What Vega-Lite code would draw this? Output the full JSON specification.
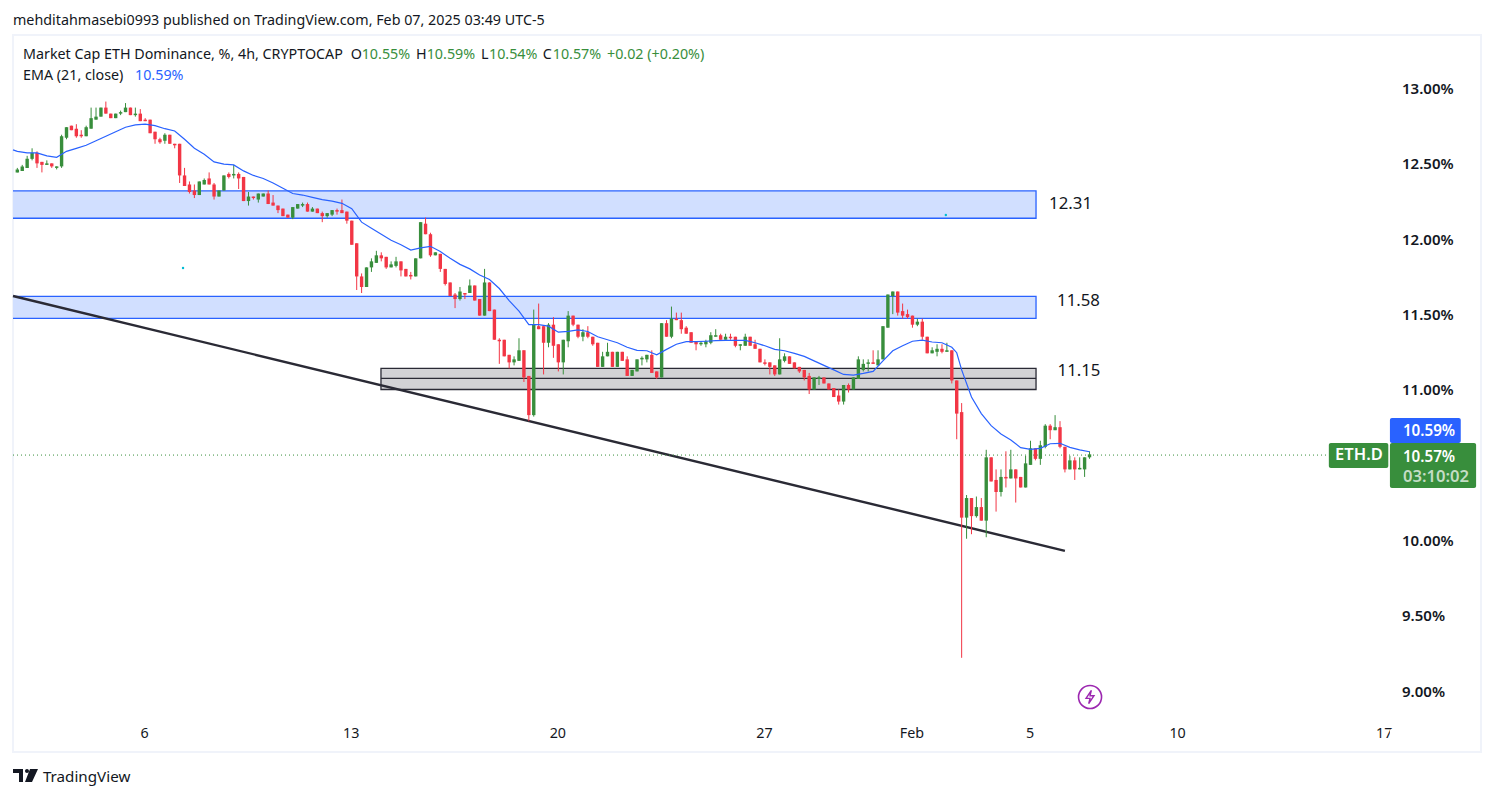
{"$schema":"https://vega.github.io/schema/vega-lite/v6.json","width":1468,"height":717,"autosize":{"type":"none"},"padding":{"left":13,"top":35,"right":13,"bottom":46},"background":"white","view":{"stroke":"#f0f3fa","strokeWidth":2},"config":{"font":"Noto Sans"},"title":{"text":"mehditahmasebi0993 published on TradingView.com, Feb 07, 2025 03:49 UTC-5","anchor":"start","frame":"group","fontSize":14.3,"fontWeight":"normal","color":"#131722","offset":7,"font":"Noto Sans"},
"datasets":{
"candles":[
{"t":"2025-01-01T16:00Z","o":12.44,"h":12.47,"l":12.44,"c":12.46},{"t":"2025-01-01T20:00Z","o":12.45,"h":12.49,"l":12.45,"c":12.48},
{"t":"2025-01-02T00:00Z","o":12.47,"h":12.55,"l":12.47,"c":12.53},{"t":"2025-01-02T04:00Z","o":12.53,"h":12.60,"l":12.52,"c":12.57},{"t":"2025-01-02T08:00Z","o":12.57,"h":12.58,"l":12.47,"c":12.50},{"t":"2025-01-02T12:00Z","o":12.51,"h":12.51,"l":12.44,"c":12.49},{"t":"2025-01-02T16:00Z","o":12.49,"h":12.52,"l":12.49,"c":12.50},{"t":"2025-01-02T20:00Z","o":12.50,"h":12.50,"l":12.47,"c":12.48},
{"t":"2025-01-03T00:00Z","o":12.47,"h":12.48,"l":12.46,"c":12.48},{"t":"2025-01-03T04:00Z","o":12.48,"h":12.69,"l":12.47,"c":12.68},{"t":"2025-01-03T08:00Z","o":12.67,"h":12.74,"l":12.66,"c":12.74},{"t":"2025-01-03T12:00Z","o":12.75,"h":12.75,"l":12.72,"c":12.72},{"t":"2025-01-03T16:00Z","o":12.73,"h":12.76,"l":12.67,"c":12.68},{"t":"2025-01-03T20:00Z","o":12.69,"h":12.72,"l":12.67,"c":12.68},
{"t":"2025-01-04T00:00Z","o":12.68,"h":12.75,"l":12.68,"c":12.74},{"t":"2025-01-04T04:00Z","o":12.73,"h":12.87,"l":12.73,"c":12.80},{"t":"2025-01-04T08:00Z","o":12.79,"h":12.87,"l":12.79,"c":12.81},{"t":"2025-01-04T12:00Z","o":12.81,"h":12.87,"l":12.81,"c":12.87},{"t":"2025-01-04T16:00Z","o":12.87,"h":12.91,"l":12.83,"c":12.83},{"t":"2025-01-04T20:00Z","o":12.83,"h":12.83,"l":12.80,"c":12.80},
{"t":"2025-01-05T00:00Z","o":12.80,"h":12.83,"l":12.80,"c":12.83},{"t":"2025-01-05T04:00Z","o":12.83,"h":12.85,"l":12.82,"c":12.84},{"t":"2025-01-05T08:00Z","o":12.84,"h":12.90,"l":12.84,"c":12.87},{"t":"2025-01-05T12:00Z","o":12.87,"h":12.87,"l":12.82,"c":12.82},{"t":"2025-01-05T16:00Z","o":12.82,"h":12.87,"l":12.81,"c":12.83},{"t":"2025-01-05T20:00Z","o":12.83,"h":12.86,"l":12.78,"c":12.78},
{"t":"2025-01-06T00:00Z","o":12.79,"h":12.80,"l":12.78,"c":12.78},{"t":"2025-01-06T04:00Z","o":12.79,"h":12.79,"l":12.70,"c":12.70},{"t":"2025-01-06T08:00Z","o":12.71,"h":12.71,"l":12.63,"c":12.66},{"t":"2025-01-06T12:00Z","o":12.66,"h":12.67,"l":12.63,"c":12.64},{"t":"2025-01-06T16:00Z","o":12.65,"h":12.70,"l":12.63,"c":12.69},{"t":"2025-01-06T20:00Z","o":12.69,"h":12.69,"l":12.63,"c":12.63},
{"t":"2025-01-07T00:00Z","o":12.63,"h":12.63,"l":12.60,"c":12.62},{"t":"2025-01-07T04:00Z","o":12.63,"h":12.63,"l":12.37,"c":12.42},{"t":"2025-01-07T08:00Z","o":12.42,"h":12.47,"l":12.35,"c":12.35},{"t":"2025-01-07T12:00Z","o":12.36,"h":12.38,"l":12.30,"c":12.31},{"t":"2025-01-07T16:00Z","o":12.32,"h":12.36,"l":12.27,"c":12.29},{"t":"2025-01-07T20:00Z","o":12.29,"h":12.38,"l":12.29,"c":12.38},
{"t":"2025-01-08T00:00Z","o":12.36,"h":12.40,"l":12.36,"c":12.39},{"t":"2025-01-08T04:00Z","o":12.40,"h":12.44,"l":12.36,"c":12.36},{"t":"2025-01-08T08:00Z","o":12.36,"h":12.37,"l":12.26,"c":12.28},{"t":"2025-01-08T12:00Z","o":12.28,"h":12.32,"l":12.28,"c":12.32},{"t":"2025-01-08T16:00Z","o":12.32,"h":12.42,"l":12.32,"c":12.42},{"t":"2025-01-08T20:00Z","o":12.43,"h":12.44,"l":12.40,"c":12.41},
{"t":"2025-01-09T00:00Z","o":12.42,"h":12.49,"l":12.40,"c":12.43},{"t":"2025-01-09T04:00Z","o":12.43,"h":12.44,"l":12.33,"c":12.40},{"t":"2025-01-09T08:00Z","o":12.41,"h":12.41,"l":12.25,"c":12.25},{"t":"2025-01-09T12:00Z","o":12.25,"h":12.31,"l":12.22,"c":12.28},{"t":"2025-01-09T16:00Z","o":12.28,"h":12.28,"l":12.26,"c":12.27},{"t":"2025-01-09T20:00Z","o":12.26,"h":12.30,"l":12.24,"c":12.30},
{"t":"2025-01-10T00:00Z","o":12.28,"h":12.30,"l":12.28,"c":12.30},{"t":"2025-01-10T04:00Z","o":12.30,"h":12.32,"l":12.23,"c":12.23},{"t":"2025-01-10T08:00Z","o":12.24,"h":12.29,"l":12.22,"c":12.22},{"t":"2025-01-10T12:00Z","o":12.22,"h":12.22,"l":12.17,"c":12.19},{"t":"2025-01-10T16:00Z","o":12.20,"h":12.20,"l":12.15,"c":12.15},{"t":"2025-01-10T20:00Z","o":12.16,"h":12.16,"l":12.14,"c":12.14},
{"t":"2025-01-11T00:00Z","o":12.14,"h":12.21,"l":12.13,"c":12.21},{"t":"2025-01-11T04:00Z","o":12.20,"h":12.23,"l":12.20,"c":12.23},{"t":"2025-01-11T08:00Z","o":12.22,"h":12.24,"l":12.21,"c":12.23},{"t":"2025-01-11T12:00Z","o":12.23,"h":12.24,"l":12.18,"c":12.18},{"t":"2025-01-11T16:00Z","o":12.18,"h":12.21,"l":12.18,"c":12.20},{"t":"2025-01-11T20:00Z","o":12.20,"h":12.20,"l":12.17,"c":12.17},
{"t":"2025-01-12T00:00Z","o":12.17,"h":12.18,"l":12.11,"c":12.15},{"t":"2025-01-12T04:00Z","o":12.15,"h":12.17,"l":12.14,"c":12.17},{"t":"2025-01-12T08:00Z","o":12.16,"h":12.19,"l":12.15,"c":12.19},{"t":"2025-01-12T12:00Z","o":12.19,"h":12.20,"l":12.16,"c":12.18},{"t":"2025-01-12T16:00Z","o":12.19,"h":12.26,"l":12.17,"c":12.17},{"t":"2025-01-12T20:00Z","o":12.18,"h":12.18,"l":12.10,"c":12.12},
{"t":"2025-01-13T00:00Z","o":12.12,"h":12.12,"l":11.96,"c":11.96},{"t":"2025-01-13T04:00Z","o":11.97,"h":11.97,"l":11.66,"c":11.75},{"t":"2025-01-13T08:00Z","o":11.75,"h":11.77,"l":11.64,"c":11.68},{"t":"2025-01-13T12:00Z","o":11.68,"h":11.81,"l":11.68,"c":11.81},{"t":"2025-01-13T16:00Z","o":11.81,"h":11.87,"l":11.78,"c":11.85},{"t":"2025-01-13T20:00Z","o":11.84,"h":11.92,"l":11.84,"c":11.89},
{"t":"2025-01-14T00:00Z","o":11.89,"h":11.91,"l":11.85,"c":11.87},{"t":"2025-01-14T04:00Z","o":11.88,"h":11.88,"l":11.80,"c":11.81},{"t":"2025-01-14T08:00Z","o":11.81,"h":11.85,"l":11.81,"c":11.83},{"t":"2025-01-14T12:00Z","o":11.82,"h":11.88,"l":11.81,"c":11.85},{"t":"2025-01-14T16:00Z","o":11.85,"h":11.85,"l":11.75,"c":11.79},{"t":"2025-01-14T20:00Z","o":11.80,"h":11.80,"l":11.75,"c":11.75},
{"t":"2025-01-15T00:00Z","o":11.76,"h":11.78,"l":11.73,"c":11.75},{"t":"2025-01-15T04:00Z","o":11.75,"h":11.87,"l":11.75,"c":11.87},{"t":"2025-01-15T08:00Z","o":11.87,"h":12.11,"l":11.87,"c":12.11},{"t":"2025-01-15T12:00Z","o":12.10,"h":12.14,"l":12.03,"c":12.03},{"t":"2025-01-15T16:00Z","o":12.03,"h":12.04,"l":11.88,"c":11.89},{"t":"2025-01-15T20:00Z","o":11.89,"h":11.91,"l":11.89,"c":11.91},
{"t":"2025-01-16T00:00Z","o":11.90,"h":11.90,"l":11.78,"c":11.80},{"t":"2025-01-16T04:00Z","o":11.80,"h":11.80,"l":11.69,"c":11.70},{"t":"2025-01-16T08:00Z","o":11.71,"h":11.71,"l":11.62,"c":11.62},{"t":"2025-01-16T12:00Z","o":11.63,"h":11.64,"l":11.54,"c":11.60},{"t":"2025-01-16T16:00Z","o":11.60,"h":11.68,"l":11.59,"c":11.65},{"t":"2025-01-16T20:00Z","o":11.64,"h":11.64,"l":11.60,"c":11.63},
{"t":"2025-01-17T00:00Z","o":11.64,"h":11.73,"l":11.64,"c":11.69},{"t":"2025-01-17T04:00Z","o":11.69,"h":11.69,"l":11.59,"c":11.59},{"t":"2025-01-17T08:00Z","o":11.60,"h":11.60,"l":11.49,"c":11.49},{"t":"2025-01-17T12:00Z","o":11.49,"h":11.80,"l":11.49,"c":11.71},{"t":"2025-01-17T16:00Z","o":11.71,"h":11.71,"l":11.52,"c":11.52},{"t":"2025-01-17T20:00Z","o":11.53,"h":11.53,"l":11.33,"c":11.33},
{"t":"2025-01-18T00:00Z","o":11.33,"h":11.34,"l":11.17,"c":11.32},{"t":"2025-01-18T04:00Z","o":11.33,"h":11.33,"l":11.22,"c":11.22},{"t":"2025-01-18T08:00Z","o":11.23,"h":11.23,"l":11.14,"c":11.18},{"t":"2025-01-18T12:00Z","o":11.18,"h":11.22,"l":11.16,"c":11.20},{"t":"2025-01-18T16:00Z","o":11.19,"h":11.34,"l":11.19,"c":11.26},{"t":"2025-01-18T20:00Z","o":11.26,"h":11.26,"l":11.05,"c":11.08},
{"t":"2025-01-19T00:00Z","o":11.09,"h":11.09,"l":10.79,"c":10.83},{"t":"2025-01-19T04:00Z","o":10.83,"h":11.53,"l":10.82,"c":11.43},{"t":"2025-01-19T08:00Z","o":11.42,"h":11.57,"l":11.40,"c":11.40},{"t":"2025-01-19T12:00Z","o":11.42,"h":11.42,"l":11.10,"c":11.31},{"t":"2025-01-19T16:00Z","o":11.31,"h":11.44,"l":11.28,"c":11.43},{"t":"2025-01-19T20:00Z","o":11.43,"h":11.48,"l":11.21,"c":11.29},
{"t":"2025-01-20T00:00Z","o":11.30,"h":11.30,"l":11.12,"c":11.18},{"t":"2025-01-20T04:00Z","o":11.18,"h":11.33,"l":11.10,"c":11.33},{"t":"2025-01-20T08:00Z","o":11.32,"h":11.52,"l":11.28,"c":11.49},{"t":"2025-01-20T12:00Z","o":11.49,"h":11.49,"l":11.42,"c":11.43},{"t":"2025-01-20T16:00Z","o":11.43,"h":11.43,"l":11.34,"c":11.35},{"t":"2025-01-20T20:00Z","o":11.35,"h":11.40,"l":11.32,"c":11.38},
{"t":"2025-01-21T00:00Z","o":11.38,"h":11.42,"l":11.34,"c":11.35},{"t":"2025-01-21T04:00Z","o":11.35,"h":11.35,"l":11.29,"c":11.30},{"t":"2025-01-21T08:00Z","o":11.31,"h":11.31,"l":11.15,"c":11.15},{"t":"2025-01-21T12:00Z","o":11.15,"h":11.25,"l":11.15,"c":11.22},{"t":"2025-01-21T16:00Z","o":11.22,"h":11.31,"l":11.22,"c":11.25},{"t":"2025-01-21T20:00Z","o":11.25,"h":11.25,"l":11.15,"c":11.15},
{"t":"2025-01-22T00:00Z","o":11.15,"h":11.25,"l":11.15,"c":11.25},{"t":"2025-01-22T04:00Z","o":11.25,"h":11.25,"l":11.19,"c":11.19},{"t":"2025-01-22T08:00Z","o":11.20,"h":11.22,"l":11.09,"c":11.09},{"t":"2025-01-22T12:00Z","o":11.09,"h":11.13,"l":11.09,"c":11.13},{"t":"2025-01-22T16:00Z","o":11.12,"h":11.20,"l":11.12,"c":11.20},{"t":"2025-01-22T20:00Z","o":11.20,"h":11.22,"l":11.16,"c":11.21},
{"t":"2025-01-23T00:00Z","o":11.20,"h":11.23,"l":11.18,"c":11.23},{"t":"2025-01-23T04:00Z","o":11.23,"h":11.26,"l":11.11,"c":11.11},{"t":"2025-01-23T08:00Z","o":11.12,"h":11.12,"l":11.07,"c":11.08},{"t":"2025-01-23T12:00Z","o":11.08,"h":11.44,"l":11.08,"c":11.44},{"t":"2025-01-23T16:00Z","o":11.44,"h":11.46,"l":11.35,"c":11.35},{"t":"2025-01-23T20:00Z","o":11.35,"h":11.55,"l":11.34,"c":11.47},
{"t":"2025-01-24T00:00Z","o":11.47,"h":11.51,"l":11.46,"c":11.46},{"t":"2025-01-24T04:00Z","o":11.46,"h":11.51,"l":11.37,"c":11.40},{"t":"2025-01-24T08:00Z","o":11.41,"h":11.42,"l":11.37,"c":11.37},{"t":"2025-01-24T12:00Z","o":11.38,"h":11.38,"l":11.31,"c":11.31},{"t":"2025-01-24T16:00Z","o":11.32,"h":11.32,"l":11.26,"c":11.30},{"t":"2025-01-24T20:00Z","o":11.30,"h":11.32,"l":11.29,"c":11.31},
{"t":"2025-01-25T00:00Z","o":11.30,"h":11.33,"l":11.28,"c":11.32},{"t":"2025-01-25T04:00Z","o":11.31,"h":11.38,"l":11.30,"c":11.36},{"t":"2025-01-25T08:00Z","o":11.35,"h":11.40,"l":11.35,"c":11.36},{"t":"2025-01-25T12:00Z","o":11.36,"h":11.37,"l":11.33,"c":11.33},{"t":"2025-01-25T16:00Z","o":11.33,"h":11.37,"l":11.33,"c":11.35},{"t":"2025-01-25T20:00Z","o":11.35,"h":11.37,"l":11.33,"c":11.34},
{"t":"2025-01-26T00:00Z","o":11.35,"h":11.35,"l":11.28,"c":11.29},{"t":"2025-01-26T04:00Z","o":11.29,"h":11.30,"l":11.26,"c":11.30},{"t":"2025-01-26T08:00Z","o":11.29,"h":11.37,"l":11.29,"c":11.35},{"t":"2025-01-26T12:00Z","o":11.35,"h":11.35,"l":11.29,"c":11.29},{"t":"2025-01-26T16:00Z","o":11.30,"h":11.33,"l":11.27,"c":11.27},{"t":"2025-01-26T20:00Z","o":11.27,"h":11.27,"l":11.18,"c":11.18},
{"t":"2025-01-27T00:00Z","o":11.18,"h":11.20,"l":11.16,"c":11.17},{"t":"2025-01-27T04:00Z","o":11.18,"h":11.18,"l":11.10,"c":11.15},{"t":"2025-01-27T08:00Z","o":11.16,"h":11.16,"l":11.09,"c":11.10},{"t":"2025-01-27T12:00Z","o":11.10,"h":11.34,"l":11.10,"c":11.20},{"t":"2025-01-27T16:00Z","o":11.19,"h":11.24,"l":11.18,"c":11.22},{"t":"2025-01-27T20:00Z","o":11.22,"h":11.22,"l":11.17,"c":11.17},
{"t":"2025-01-28T00:00Z","o":11.18,"h":11.18,"l":11.14,"c":11.14},{"t":"2025-01-28T04:00Z","o":11.15,"h":11.15,"l":11.11,"c":11.12},{"t":"2025-01-28T08:00Z","o":11.13,"h":11.13,"l":11.06,"c":11.08},{"t":"2025-01-28T12:00Z","o":11.09,"h":11.11,"l":10.97,"c":11.00},{"t":"2025-01-28T16:00Z","o":11.00,"h":11.08,"l":11.00,"c":11.08},{"t":"2025-01-28T20:00Z","o":11.07,"h":11.09,"l":11.03,"c":11.08},
{"t":"2025-01-29T00:00Z","o":11.08,"h":11.08,"l":11.04,"c":11.04},{"t":"2025-01-29T04:00Z","o":11.04,"h":11.04,"l":11.00,"c":11.00},{"t":"2025-01-29T08:00Z","o":11.01,"h":11.01,"l":10.95,"c":10.95},{"t":"2025-01-29T12:00Z","o":10.96,"h":11.00,"l":10.90,"c":10.92},{"t":"2025-01-29T16:00Z","o":10.92,"h":11.03,"l":10.90,"c":11.03},{"t":"2025-01-29T20:00Z","o":11.03,"h":11.04,"l":10.98,"c":11.00},
{"t":"2025-01-30T00:00Z","o":11.00,"h":11.08,"l":11.00,"c":11.08},{"t":"2025-01-30T04:00Z","o":11.07,"h":11.22,"l":11.07,"c":11.20},{"t":"2025-01-30T08:00Z","o":11.13,"h":11.20,"l":11.12,"c":11.17},{"t":"2025-01-30T12:00Z","o":11.17,"h":11.20,"l":11.12,"c":11.18},{"t":"2025-01-30T16:00Z","o":11.18,"h":11.26,"l":11.17,"c":11.17},{"t":"2025-01-30T20:00Z","o":11.16,"h":11.26,"l":11.16,"c":11.20},
{"t":"2025-01-31T00:00Z","o":11.20,"h":11.42,"l":11.20,"c":11.42},{"t":"2025-01-31T04:00Z","o":11.41,"h":11.63,"l":11.41,"c":11.63},{"t":"2025-01-31T08:00Z","o":11.62,"h":11.65,"l":11.50,"c":11.65},{"t":"2025-01-31T12:00Z","o":11.65,"h":11.65,"l":11.49,"c":11.51},{"t":"2025-01-31T16:00Z","o":11.52,"h":11.57,"l":11.47,"c":11.49},{"t":"2025-01-31T20:00Z","o":11.50,"h":11.53,"l":11.47,"c":11.48},
{"t":"2025-02-01T00:00Z","o":11.49,"h":11.49,"l":11.41,"c":11.43},{"t":"2025-02-01T04:00Z","o":11.43,"h":11.47,"l":11.42,"c":11.45},{"t":"2025-02-01T08:00Z","o":11.45,"h":11.47,"l":11.33,"c":11.35},{"t":"2025-02-01T12:00Z","o":11.35,"h":11.35,"l":11.24,"c":11.24},{"t":"2025-02-01T16:00Z","o":11.24,"h":11.28,"l":11.24,"c":11.26},{"t":"2025-02-01T20:00Z","o":11.25,"h":11.30,"l":11.22,"c":11.27},
{"t":"2025-02-02T00:00Z","o":11.27,"h":11.30,"l":11.24,"c":11.25},{"t":"2025-02-02T04:00Z","o":11.25,"h":11.31,"l":11.25,"c":11.26},{"t":"2025-02-02T08:00Z","o":11.26,"h":11.26,"l":11.04,"c":11.06},{"t":"2025-02-02T12:00Z","o":11.06,"h":11.06,"l":10.67,"c":10.84},{"t":"2025-02-02T16:00Z","o":10.85,"h":10.91,"l":9.22,"c":10.15},{"t":"2025-02-02T20:00Z","o":10.15,"h":10.30,"l":10.01,"c":10.28},
{"t":"2025-02-03T00:00Z","o":10.28,"h":10.28,"l":10.04,"c":10.16},{"t":"2025-02-03T04:00Z","o":10.16,"h":10.29,"l":10.15,"c":10.22},{"t":"2025-02-03T08:00Z","o":10.22,"h":10.28,"l":10.13,"c":10.13},{"t":"2025-02-03T12:00Z","o":10.13,"h":10.60,"l":10.02,"c":10.55},{"t":"2025-02-03T16:00Z","o":10.55,"h":10.55,"l":10.39,"c":10.39},{"t":"2025-02-03T20:00Z","o":10.40,"h":10.47,"l":10.19,"c":10.32},
{"t":"2025-02-04T00:00Z","o":10.32,"h":10.47,"l":10.29,"c":10.42},{"t":"2025-02-04T04:00Z","o":10.42,"h":10.59,"l":10.35,"c":10.41},{"t":"2025-02-04T08:00Z","o":10.41,"h":10.60,"l":10.41,"c":10.47},{"t":"2025-02-04T12:00Z","o":10.47,"h":10.47,"l":10.25,"c":10.41},{"t":"2025-02-04T16:00Z","o":10.42,"h":10.42,"l":10.35,"c":10.35},{"t":"2025-02-04T20:00Z","o":10.35,"h":10.56,"l":10.35,"c":10.51},
{"t":"2025-02-05T00:00Z","o":10.50,"h":10.66,"l":10.50,"c":10.61},{"t":"2025-02-05T04:00Z","o":10.61,"h":10.61,"l":10.53,"c":10.54},{"t":"2025-02-05T08:00Z","o":10.54,"h":10.66,"l":10.50,"c":10.63},{"t":"2025-02-05T12:00Z","o":10.62,"h":10.77,"l":10.61,"c":10.76},{"t":"2025-02-05T16:00Z","o":10.76,"h":10.77,"l":10.67,"c":10.73},{"t":"2025-02-05T20:00Z","o":10.73,"h":10.83,"l":10.73,"c":10.75},
{"t":"2025-02-06T00:00Z","o":10.75,"h":10.79,"l":10.61,"c":10.62},{"t":"2025-02-06T04:00Z","o":10.62,"h":10.62,"l":10.45,"c":10.47},{"t":"2025-02-06T08:00Z","o":10.47,"h":10.56,"l":10.47,"c":10.53},{"t":"2025-02-06T12:00Z","o":10.53,"h":10.55,"l":10.40,"c":10.47},{"t":"2025-02-06T16:00Z","o":10.47,"h":10.55,"l":10.47,"c":10.48},{"t":"2025-02-06T20:00Z","o":10.47,"h":10.55,"l":10.42,"c":10.55},
{"t":"2025-02-07T00:00Z","o":10.55,"h":10.59,"l":10.54,"c":10.57}],
"ema":[{"t":"2025-01-01T12:30Z","p":12.59},{"t":"2025-01-01T16:00Z","p":12.58},{"t":"2025-01-02T00:00Z","p":12.57},{"t":"2025-01-02T08:00Z","p":12.57},{"t":"2025-01-02T16:00Z","p":12.55},{"t":"2025-01-03T00:00Z","p":12.54},{"t":"2025-01-03T08:00Z","p":12.58},{"t":"2025-01-03T16:00Z","p":12.60},{"t":"2025-01-04T00:00Z","p":12.62},{"t":"2025-01-04T08:00Z","p":12.65},{"t":"2025-01-04T16:00Z","p":12.68},{"t":"2025-01-05T00:00Z","p":12.71},{"t":"2025-01-05T08:00Z","p":12.74},{"t":"2025-01-05T16:00Z","p":12.755},{"t":"2025-01-06T00:00Z","p":12.76},{"t":"2025-01-06T08:00Z","p":12.75},{"t":"2025-01-06T16:00Z","p":12.73},{"t":"2025-01-07T00:00Z","p":12.715},{"t":"2025-01-07T08:00Z","p":12.66},{"t":"2025-01-07T16:00Z","p":12.60},{"t":"2025-01-08T00:00Z","p":12.56},{"t":"2025-01-08T08:00Z","p":12.51},{"t":"2025-01-08T16:00Z","p":12.495},{"t":"2025-01-09T00:00Z","p":12.49},{"t":"2025-01-09T08:00Z","p":12.45},{"t":"2025-01-09T16:00Z","p":12.42},{"t":"2025-01-10T00:00Z","p":12.40},{"t":"2025-01-10T08:00Z","p":12.37},{"t":"2025-01-10T16:00Z","p":12.335},{"t":"2025-01-11T00:00Z","p":12.30},{"t":"2025-01-11T08:00Z","p":12.29},{"t":"2025-01-11T16:00Z","p":12.275},{"t":"2025-01-12T00:00Z","p":12.26},{"t":"2025-01-12T08:00Z","p":12.25},{"t":"2025-01-12T16:00Z","p":12.235},{"t":"2025-01-13T00:00Z","p":12.20},{"t":"2025-01-13T08:00Z","p":12.11},{"t":"2025-01-13T16:00Z","p":12.07},{"t":"2025-01-14T00:00Z","p":12.03},{"t":"2025-01-14T08:00Z","p":11.99},{"t":"2025-01-14T16:00Z","p":11.96},{"t":"2025-01-15T00:00Z","p":11.925},{"t":"2025-01-15T08:00Z","p":11.94},{"t":"2025-01-15T16:00Z","p":11.95},{"t":"2025-01-16T00:00Z","p":11.915},{"t":"2025-01-16T08:00Z","p":11.87},{"t":"2025-01-16T16:00Z","p":11.83},{"t":"2025-01-17T00:00Z","p":11.80},{"t":"2025-01-17T08:00Z","p":11.76},{"t":"2025-01-17T16:00Z","p":11.73},{"t":"2025-01-18T00:00Z","p":11.67},{"t":"2025-01-18T08:00Z","p":11.59},{"t":"2025-01-18T16:00Z","p":11.52},{"t":"2025-01-19T00:00Z","p":11.43},{"t":"2025-01-19T08:00Z","p":11.43},{"t":"2025-01-19T16:00Z","p":11.42},{"t":"2025-01-20T00:00Z","p":11.38},{"t":"2025-01-20T08:00Z","p":11.385},{"t":"2025-01-20T16:00Z","p":11.395},{"t":"2025-01-21T00:00Z","p":11.385},{"t":"2025-01-21T08:00Z","p":11.35},{"t":"2025-01-21T16:00Z","p":11.33},{"t":"2025-01-22T00:00Z","p":11.31},{"t":"2025-01-22T08:00Z","p":11.28},{"t":"2025-01-22T16:00Z","p":11.26},{"t":"2025-01-23T00:00Z","p":11.257},{"t":"2025-01-23T08:00Z","p":11.23},{"t":"2025-01-23T16:00Z","p":11.266},{"t":"2025-01-24T00:00Z","p":11.30},{"t":"2025-01-24T08:00Z","p":11.317},{"t":"2025-01-24T16:00Z","p":11.317},{"t":"2025-01-25T00:00Z","p":11.32},{"t":"2025-01-25T08:00Z","p":11.324},{"t":"2025-01-25T16:00Z","p":11.326},{"t":"2025-01-26T00:00Z","p":11.326},{"t":"2025-01-26T08:00Z","p":11.326},{"t":"2025-01-26T16:00Z","p":11.31},{"t":"2025-01-27T00:00Z","p":11.29},{"t":"2025-01-27T08:00Z","p":11.266},{"t":"2025-01-27T16:00Z","p":11.257},{"t":"2025-01-28T00:00Z","p":11.24},{"t":"2025-01-28T08:00Z","p":11.22},{"t":"2025-01-28T16:00Z","p":11.19},{"t":"2025-01-29T00:00Z","p":11.16},{"t":"2025-01-29T08:00Z","p":11.13},{"t":"2025-01-29T16:00Z","p":11.10},{"t":"2025-01-30T00:00Z","p":11.096},{"t":"2025-01-30T08:00Z","p":11.107},{"t":"2025-01-30T16:00Z","p":11.12},{"t":"2025-01-31T00:00Z","p":11.19},{"t":"2025-01-31T08:00Z","p":11.257},{"t":"2025-01-31T16:00Z","p":11.29},{"t":"2025-02-01T00:00Z","p":11.32},{"t":"2025-02-01T08:00Z","p":11.328},{"t":"2025-02-01T16:00Z","p":11.315},{"t":"2025-02-02T00:00Z","p":11.31},{"t":"2025-02-02T08:00Z","p":11.28},{"t":"2025-02-02T12:00Z","p":11.244},{"t":"2025-02-02T16:00Z","p":11.13},{"t":"2025-02-03T00:00Z","p":10.95},{"t":"2025-02-03T08:00Z","p":10.84},{"t":"2025-02-03T16:00Z","p":10.76},{"t":"2025-02-04T00:00Z","p":10.705},{"t":"2025-02-04T08:00Z","p":10.665},{"t":"2025-02-04T16:00Z","p":10.614},{"t":"2025-02-05T00:00Z","p":10.603},{"t":"2025-02-05T08:00Z","p":10.61},{"t":"2025-02-05T16:00Z","p":10.64},{"t":"2025-02-06T00:00Z","p":10.643},{"t":"2025-02-06T08:00Z","p":10.616},{"t":"2025-02-06T16:00Z","p":10.60},{"t":"2025-02-07T00:00Z","p":10.587}],
"zones":[{"name":"12.31","t":"2024-12-31T00:00Z","end":"2025-02-05T04:30Z","p":12.317,"bottom":12.136,"kind":"blue"},{"name":"11.58","t":"2024-12-31T00:00Z","end":"2025-02-05T04:30Z","p":11.618,"bottom":11.472,"kind":"blue"},{"name":"11.15","t":"2025-01-13T23:45Z","end":"2025-02-05T04:30Z","p":11.14,"bottom":11.0,"kind":"gray"}],
"tags":[{"t":"2025-02-17T04:19Z","end":"2025-02-19T13:55Z","p":10.811,"bottom":10.645,"kind":"ema"},{"t":"2025-02-15T02:38Z","end":"2025-02-17T03:00Z","p":10.645,"bottom":10.479,"kind":"price"},{"t":"2025-02-17T04:19Z","end":"2025-02-20T02:24Z","p":10.645,"bottom":10.347,"kind":"price"},{"t":"2025-02-17T04:19Z","end":"2025-02-20T05:00Z","p":8.75,"bottom":8.62,"kind":"mask"}],
"legendText":[{"t":"2025-01-01T20:37Z","p":13.219,"text":"Market Cap ETH Dominance, %, 4h, CRYPTOCAP","kind":"name"},{"t":"2025-01-12T23:08Z","p":13.219,"text":"O","kind":"name"},{"t":"2025-01-13T08:04Z","p":13.219,"text":"10.55%","kind":"up"},{"t":"2025-01-15T04:14Z","p":13.219,"text":"H","kind":"name"},{"t":"2025-01-15T12:56Z","p":13.219,"text":"10.59%","kind":"up"},{"t":"2025-01-17T09:06Z","p":13.219,"text":"L","kind":"name"},{"t":"2025-01-17T15:36Z","p":13.219,"text":"10.54%","kind":"up"},{"t":"2025-01-19T11:17Z","p":13.219,"text":"C","kind":"name"},{"t":"2025-01-19T19:25Z","p":13.219,"text":"10.57%","kind":"up"},{"t":"2025-01-21T15:34Z","p":13.219,"text":"+0.02 (+0.20%)","kind":"up"},{"t":"2025-01-01T20:37Z","p":13.08,"text":"EMA (21, close)","kind":"name"},{"t":"2025-01-05T15:43Z","p":13.08,"text":"10.59%","kind":"ema"}],
"levels":[{"t":"2025-02-05T15:07Z","p":12.23,"text":"12.31"},{"t":"2025-02-05T21:36Z","p":11.587,"text":"11.58"},{"t":"2025-02-05T22:00Z","p":11.12,"text":"11.15"}],
"tagText":[{"t":"2025-02-17T14:53Z","p":10.725,"text":"10.59%"},{"t":"2025-02-17T14:53Z","p":10.55,"text":"10.57%"}]
},
"encoding":{
"x":{"field":"t","type":"temporal","title":null,"scale":{"type":"utc","nice":false,"padding":0,"domain":[{"year":2025,"month":1,"date":1,"hours":12,"minutes":29,"utc":true},{"year":2025,"month":2,"date":20,"hours":6,"minutes":23,"utc":true}]},"axis":{"orient":"bottom","grid":false,"domain":false,"ticks":false,"labelPadding":-19,"labelBaseline":"middle","labelFontSize":14.3,"labelColor":"#131722","labelFont":"Noto Sans","labelBound":false,"labelFlush":false,"labelOverlap":false,"labelOffset":-1,"labelFontWeight":{"condition":{"test":"datum.label=='Feb'","value":600},"value":400},"values":[{"year":2025,"month":1,"date":6,"utc":true},{"year":2025,"month":1,"date":13,"utc":true},{"year":2025,"month":1,"date":20,"utc":true},{"year":2025,"month":1,"date":27,"utc":true},{"year":2025,"month":2,"date":1,"utc":true},{"year":2025,"month":2,"date":5,"utc":true},{"year":2025,"month":2,"date":10,"utc":true},{"year":2025,"month":2,"date":17,"utc":true}],"labelExpr":"utcdate(datum.value)==1?'Feb':''+utcdate(datum.value)"}},
"y":{"field":"p","type":"quantitative","title":null,"scale":{"zero":false,"nice":false,"domain":[8.5953,13.3516]},"axis":{"orient":"right","grid":false,"domain":false,"ticks":false,"labelPadding":-79.5,"labelOffset":0.3,"labelFontSize":15,"labelColor":"#131722","labelFont":"Noto Sans","labelOverlap":false,"labelFontWeight":600,"values":[9,9.5,10,10.5,11,11.5,12,12.5,13],"labelExpr":"format(datum.value,'.2f')+'%'"}}
},
"layer":[
{"data":{"name":"zones"},"mark":{"type":"rect","strokeWidth":1.3,"clip":true},"encoding":{"x2":{"field":"end"},"y2":{"field":"bottom"},"fill":{"field":"kind","type":"nominal","legend":null,"scale":{"domain":["blue","gray","ema","price","mask"],"range":["#d1dfff","#d2d2d5","#2962ff","#388e3c","#ffffff"]}},"stroke":{"field":"kind","type":"nominal","legend":null,"scale":{"domain":["blue","gray"],"range":["#2962ff","#2a2a35"]}}}},
{"data":{"values":[{"t":"2025-01-13T23:45Z","end":"2025-02-05T04:30Z","p":11.074}]},"mark":{"type":"rule","color":"#2a2a35","strokeWidth":1.3},"encoding":{"x2":{"field":"end"}}},
{"data":{"values":[{"t":"2025-01-01T12:29Z","p":11.62},{"t":"2025-02-06T04:00Z","p":9.93}]},"mark":{"type":"line","color":"#2a2a35","strokeWidth":2.4}},
{"data":{"values":[{"t":"2025-01-01T12:29Z","end":"2025-02-15T02:38Z","p":10.565}]},"mark":{"type":"rule","color":"#388e3c","strokeWidth":1,"strokeDash":[1,3]},"encoding":{"x2":{"field":"end"}}},
{"data":{"name":"candles"},"mark":{"type":"rule","strokeWidth":1},"encoding":{"y":{"field":"l","type":"quantitative","title":null,"scale":{"zero":false,"nice":false,"domain":[8.5953,13.3516]},"axis":{"orient":"right","grid":false,"domain":false,"ticks":false,"labelPadding":-79.5,"labelOffset":0.3,"labelFontSize":15,"labelColor":"#131722","labelFont":"Noto Sans","labelOverlap":false,"labelFontWeight":600,"values":[9,9.5,10,10.5,11,11.5,12,12.5,13],"labelExpr":"format(datum.value,'.2f')+'%'"}},"y2":{"field":"h"},"color":{"condition":{"test":"datum.c>=datum.o","value":"#388e3c"},"value":"#f23645"}}},
{"data":{"name":"candles"},"mark":{"type":"bar","size":3.4},"encoding":{"y":{"field":"o","type":"quantitative","title":null,"scale":{"zero":false,"nice":false,"domain":[8.5953,13.3516]},"axis":{"orient":"right","grid":false,"domain":false,"ticks":false,"labelPadding":-79.5,"labelOffset":0.3,"labelFontSize":15,"labelColor":"#131722","labelFont":"Noto Sans","labelOverlap":false,"labelFontWeight":600,"values":[9,9.5,10,10.5,11,11.5,12,12.5,13],"labelExpr":"format(datum.value,'.2f')+'%'"}},"y2":{"field":"c"},"color":{"condition":{"test":"datum.c>=datum.o","value":"#388e3c"},"value":"#f23645"}}},
{"data":{"name":"ema"},"mark":{"type":"line","color":"#2962ff","strokeWidth":1.2}},
{"data":{"values":[{"t":"2025-01-07T06:46Z","p":11.806},{"t":"2025-02-02T03:10Z","p":12.158}]},"mark":{"type":"point","filled":true,"color":"#00bcd4","size":6,"opacity":1}},
{"data":{"name":"tags"},"mark":{"type":"rect","cornerRadius":2},"encoding":{"x2":{"field":"end"},"y2":{"field":"bottom"},"fill":{"field":"kind","type":"nominal","legend":null,"scale":{"domain":["blue","gray","ema","price","mask"],"range":["#d1dfff","#d2d2d5","#2962ff","#388e3c","#ffffff"]}}}},
{"data":{"name":"legendText"},"mark":{"type":"text","align":"left","baseline":"middle","fontSize":14.3,"font":"Noto Sans"},"encoding":{"text":{"field":"text"},"color":{"field":"kind","type":"nominal","legend":null,"scale":{"domain":["name","up","ema"],"range":["#131722","#388e3c","#2962ff"]}}}},
{"data":{"values":[{"t":"2025-01-02T12:50Z","p":8.43,"text":"TradingView"}]},"mark":{"type":"text","align":"left","baseline":"middle","fontSize":15.2,"font":"Noto Sans","color":"#131722"},"encoding":{"text":{"field":"text"}}},
{"data":{"name":"levels"},"mark":{"type":"text","align":"left","baseline":"middle","fontSize":16.8,"font":"Noto Sans","color":"#131722"},"encoding":{"text":{"field":"text"}}},
{"data":{"values":[{"t":"2025-02-16T03:07Z","p":10.565,"text":"ETH.D"}]},"mark":{"type":"text","align":"center","baseline":"middle","fontSize":16.5,"fontWeight":600,"font":"Noto Sans","color":"white"},"encoding":{"text":{"field":"text"}}},
{"data":{"name":"tagText"},"mark":{"type":"text","align":"left","baseline":"middle","fontSize":15.2,"fontWeight":600,"font":"Noto Sans","color":"#ffffff"},"encoding":{"text":{"field":"text"}}},
{"data":{"values":[{"t":"2025-02-17T14:53Z","p":10.42,"text":"03:10:02"}]},"mark":{"type":"text","align":"left","baseline":"middle","fontSize":16.6,"fontWeight":600,"font":"Noto Sans","color":"#c4ddc5"},"encoding":{"text":{"field":"text"}}},
{"data":{"values":[{"t":"2025-02-07T00:25Z","p":8.96}]},"mark":{"type":"point","shape":"circle","size":531,"filled":false,"color":"#9c27b0","strokeWidth":1.6,"opacity":1}},
{"data":{"values":[{"t":"2025-02-07T00:25Z","p":8.96}]},"mark":{"type":"point","shape":"M.1,-.5 L-.3,.1 H0 L-.1,.5 L.3,-.1 H0 Z","size":700,"filled":false,"color":"#9c27b0","strokeWidth":1.4,"opacity":1}},
{"data":{"values":[{"t":"2025-01-01T22:39Z","p":8.44}]},"mark":{"type":"point","shape":"M-.5,-.26 H-.1 V.26 H-.26 V-.1 H-.5 Z M-.02,-.18 A.08,.08 0 1 0 .14,-.18 A.08,.08 0 1 0 -.02,-.18 Z M.18,-.26 H.5 L.26,.26 H-.02 Z","size":2500,"filled":true,"color":"#131722","opacity":1}}
]}
